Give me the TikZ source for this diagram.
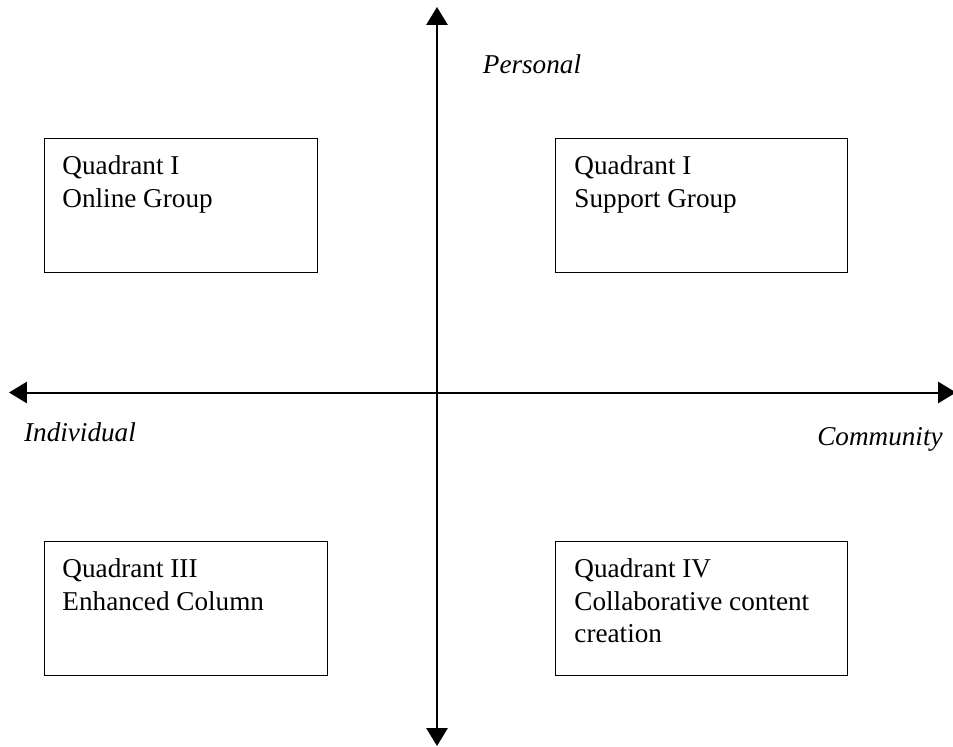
\documentclass[tikz,border=0pt]{standalone}
\usepackage{fontspec}
\setmainfont{Liberation Serif}
\usetikzlibrary{arrows.meta}
\tikzset{
    axis/.style={line width=0.85pt, {Triangle[width=9pt,length=7.6pt]}-{Triangle[width=9pt,length=7.6pt]}},
    quadbox/.style={draw, line width=0.6pt, anchor=north west, inner sep=0pt},
    quadtext/.style={anchor=north west, align=left, inner sep=0pt},
    axislabel/.style={font=\fontsize{11.6}{14}\selectfont\itshape}
}
\begin{document}
\begin{tikzpicture}[x=0.015cm, y=-0.015cm, font=\fontsize{11.6}{14}\selectfont]
        \useasboundingbox (0,0) rectangle (953,747);
        % axes
        \coordinate (top) at (437,7);
        \coordinate (bottom) at (437,746);
        \coordinate (left) at (9,392.5);
        \coordinate (right) at (956,392.5);
        \draw[axis] (top) -- (bottom);
        \draw[axis] (left) -- (right);
        \node(personal) at (532,64) [axislabel]{Personal};
        \node(individual) at (80,432) [axislabel]{Individual};
        \node(community) at (880,439) [axislabel]{Community};

        % quadrants
        \node(q1) at (44,138) [quadbox, minimum width=273*0.015cm, minimum height=134*0.015cm]{};
        \node(q2) at (555,138) [quadbox, minimum width=292*0.015cm, minimum height=134*0.015cm]{};
        \node(q3) at (44,541) [quadbox, minimum width=283*0.015cm, minimum height=134*0.015cm]{};
        \node(q4) at (555,541) [quadbox, minimum width=292*0.015cm, minimum height=134*0.015cm]{};

        \node(t1) at ([shift={(18,17)}]q1.north west) [quadtext]{Quadrant I\\Online Group};
        \node(t2) at ([shift={(19,17)}]q2.north west) [quadtext]{Quadrant I\\Support Group};
        \node(t3) at ([shift={(18,17)}]q3.north west) [quadtext]{Quadrant III\\Enhanced Column};
        \node(t4) at ([shift={(19,17)}]q4.north west) [quadtext]{Quadrant IV\\Collaborative content\\creation};
    \end{tikzpicture}
\end{document}
